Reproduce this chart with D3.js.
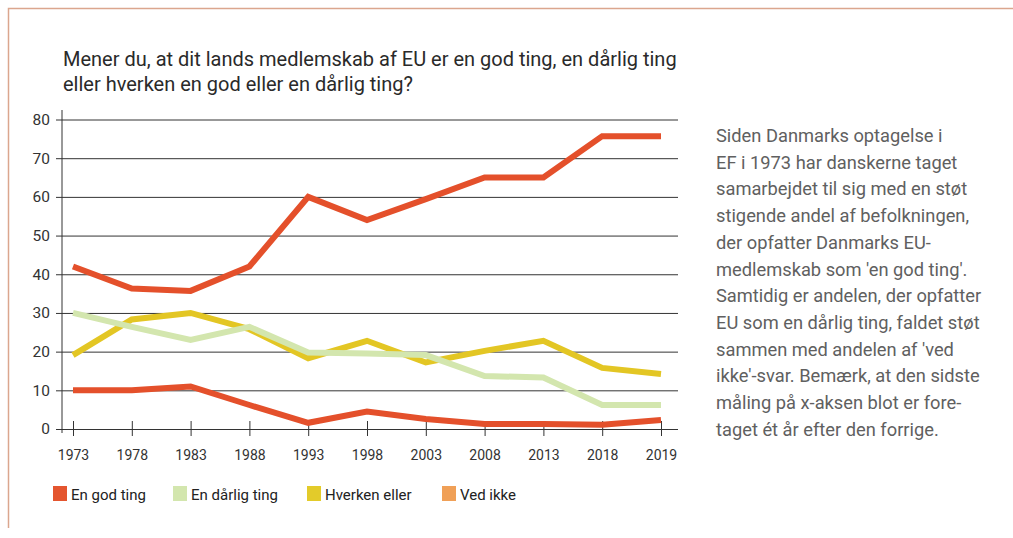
<!DOCTYPE html>
<html>
<head>
<meta charset="utf-8">
<title>EU medlemskab</title>
<style>
  body, html { margin: 0; padding: 0; background: #fff; }
  svg { display: block; font-family: Roboto, sans-serif; }
</style>
</head>
<body>
<svg id="svg" width="1013" height="538"></svg>
<script src="https://d3js.org/d3.v7.min.js"></script>
<script>
const years = ['1973', '1978', '1983', '1988', '1993', '1998', '2003', '2008', '2013', '2018', '2019']
const yTicks = [0, 10, 20, 30, 40, 50, 60, 70, 80]

const godTing = [42, 36.3, 35.7, 42, 60, 54, 59.4, 65, 65, 75.7, 75.7]
const daarligTing = [30, 26.4, 23, 26.4, 19.8, 19.5, 19.1, 13.7, 13.3, 6.2, 6.2]
const hverkenEller = [19.1, 28.3, 30, 25.8, 18.3, 22.8, 17.2, 20.2, 22.8, 15.8, 14.2]
const vedIkke = [10, 10, 11, 6.2, 1.6, 4.5, 2.6, 1.3, 1.3, 1.1, 2.3]

const seriesNames = ['En god ting', 'En dårlig ting', 'Hverken eller', 'Ved ikke']

const titleLines = [
  'Mener du, at dit lands medlemskab af EU er en god ting, en dårlig ting',
  'eller hverken en god eller en dårlig ting?'
]
const noteLines = [
  'Siden Danmarks optagelse i',
  'EF i 1973 har danskerne taget',
  'samarbejdet til sig med en støt',
  'stigende andel af befolkningen,',
  'der opfatter Danmarks EU-',
  "medlemskab som 'en god ting'.",
  'Samtidig er andelen, der opfatter',
  'EU som en dårlig ting, faldet støt',
  "sammen med andelen af 'ved",
  "ikke'-svar. Bemærk, at den sidste",
  'måling på x-aksen blot er fore-',
  'taget ét år efter den forrige.'
]

const red = '#e4502b'
const colors = { 'En god ting': red, 'En dårlig ting': '#d3e6ae', 'Hverken eller': '#e3c624', 'Ved ikke': red }
const legendColors = ['#e4552f', '#d3e6ae', '#e3cb2a', '#f0a057']

const svg = d3.select('#svg')

// frame
svg.append('path')
  .attr('d', 'M1013,8.5 H8.5 V528')
  .attr('fill', 'none')
  .attr('stroke', '#dba68e')
  .attr('stroke-width', 1.5)

// title
svg.append('g').selectAll('text')
  .data(titleLines)
  .join('text')
  .attr('x', 63)
  .attr('y', (d, i) => 66 + i * 25)
  .attr('font-size', 20)
  .attr('fill', '#2a2a2a')
  .text(d => d)

const x = d3.scalePoint().domain(years).range([73, 661])
const y = d3.scaleLinear().domain([0, 80]).range([429, 119.5])

// gridlines
const grid = d3.axisLeft(y)
  .tickValues(yTicks)
  .tickSize(-(678 - 62))
  .tickPadding(12)
  .tickFormat(d3.format('d'))

const gy = svg.append('g')
  .attr('transform', 'translate(62,0)')
  .call(grid)
gy.select('.domain').remove()
gy.selectAll('.tick line').attr('x1', -6).attr('stroke', '#333').attr('stroke-width', 1)
gy.selectAll('.tick text').attr('font-size', 15.5).attr('fill', '#333').attr('font-family', 'Roboto, sans-serif')

svg.append('line')
  .attr('x1', 62).attr('x2', 62)
  .attr('y1', 110).attr('y2', 433)
  .attr('stroke', '#333')

// x axis ticks
const gx = svg.append('g')
  .attr('transform', 'translate(0,429)')
  .call(d3.axisBottom(x).tickSize(7).tickPadding(14))
gx.select('.domain').remove()
gx.selectAll('.tick line').attr('y1', -8).attr('stroke', '#333')
gx.selectAll('.tick text').attr('font-size', 14).attr('fill', '#333').attr('font-family', 'Roboto, sans-serif')

// lines
const line = d3.line()
  .x((d, i) => x(years[i]))
  .y(d => y(d))

const drawOrder = [
  ['Hverken eller', hverkenEller],
  ['En dårlig ting', daarligTing],
  ['Ved ikke', vedIkke],
  ['En god ting', godTing]
]

svg.append('g').selectAll('path')
  .data(drawOrder)
  .join('path')
  .attr('d', d => line(d[1]))
  .attr('fill', 'none')
  .attr('stroke', d => colors[d[0]])
  .attr('stroke-width', 6)
  .attr('stroke-linejoin', 'miter')

// note on the right
svg.append('g').selectAll('text')
  .data(noteLines)
  .join('text')
  .attr('x', 716)
  .attr('y', (d, i) => 142 + i * 26.7)
  .attr('font-size', 18.3)
  .attr('fill', '#606060')
  .text(d => d)

// legend
const legendX = [53, 173, 307, 442]
const lg = svg.append('g').selectAll('g')
  .data(seriesNames)
  .join('g')
  .attr('transform', (d, i) => `translate(${legendX[i]},486)`)
lg.append('rect')
  .attr('width', 14).attr('height', 15)
  .attr('fill', (d, i) => legendColors[i])
lg.append('text')
  .attr('x', 18).attr('y', 14)
  .attr('font-size', 15)
  .attr('fill', '#222')
  .text(d => d)
</script>
</body>
</html>
